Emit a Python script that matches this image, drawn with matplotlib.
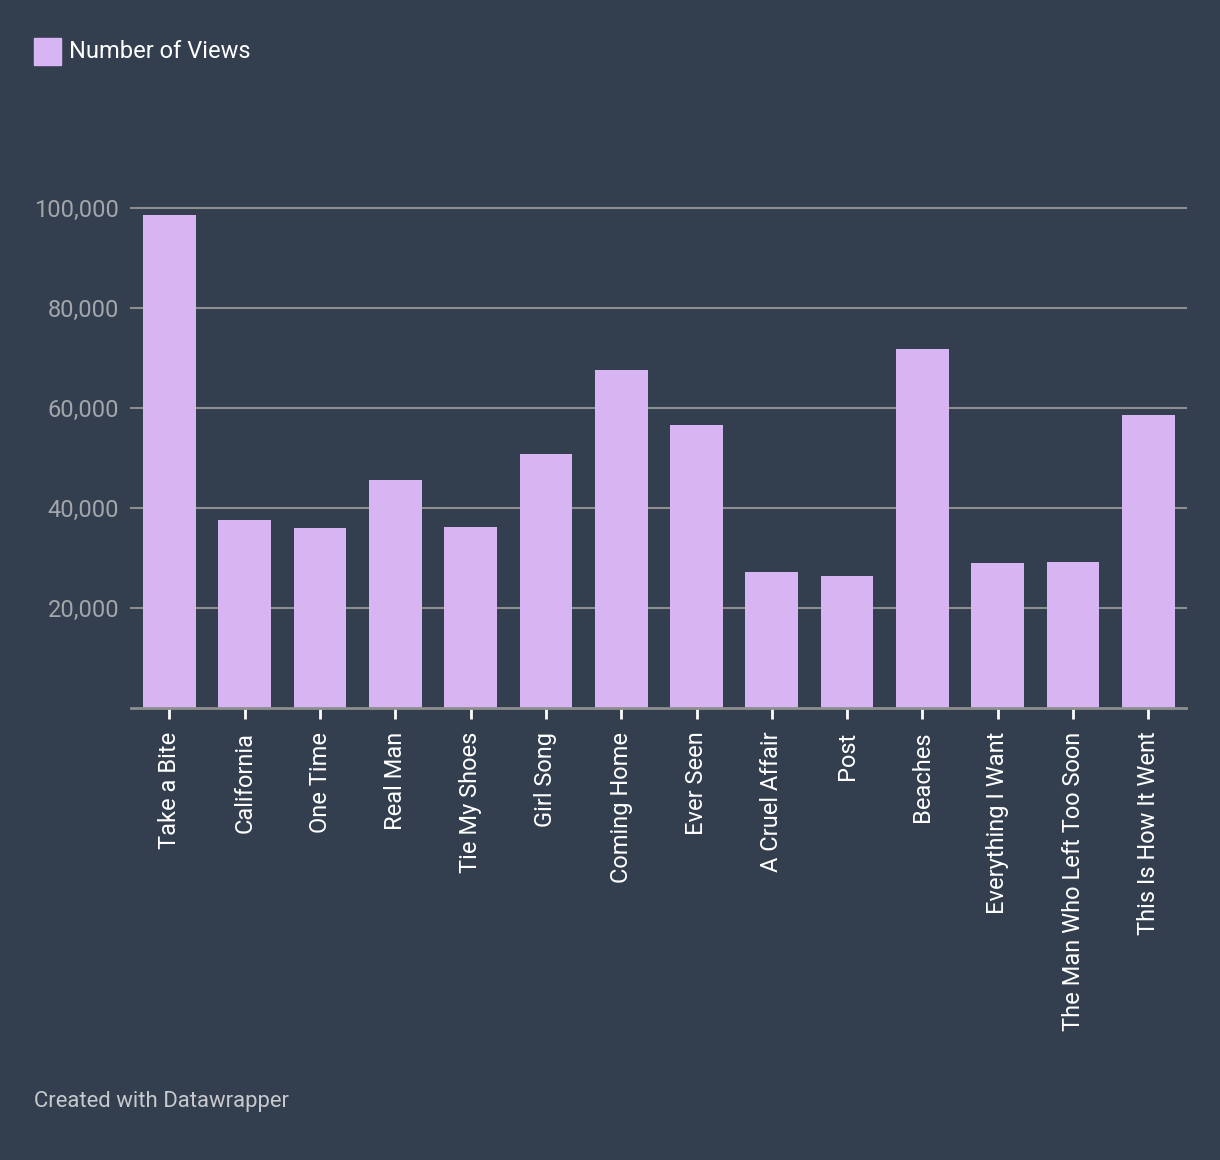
import matplotlib
matplotlib.use("Agg")
import matplotlib.pyplot as plt
from matplotlib.patches import Rectangle

songs = ["Take a Bite", "California", "One Time", "Real Man", "Tie My Shoes",
         "Girl Song", "Coming Home", "Ever Seen", "A Cruel Affair", "Post",
         "Beaches", "Everything I Want", "The Man Who Left Too Soon",
         "This Is How It Went"]
views = [98600, 37600, 36000, 45600, 36200, 50800, 67600, 56600, 27200,
         26400, 71800, 29000, 29200, 58600]
y_ticks = [20000, 40000, 60000, 80000, 100000]
y_tick_labels = ["20,000", "40,000", "60,000", "80,000", "100,000"]
series_name = "Number of Views"

BG = "#333e4f"
BAR = "#d7b5f2"
GRID = "#8e8e8e"

plt.rcParams['font.family'] = ['Roboto', 'DejaVu Sans']

W, H = 1220, 1160
fig = plt.figure(figsize=(W / 100, H / 100), dpi=100, facecolor=BG)
ax = fig.add_axes([131 / W, 1 - 708 / H, (1186 - 131) / W, (708 - 208) / H])
ax.set_facecolor(BG)

x = list(range(len(songs)))
ax.bar(x, views, width=0.70, color=BAR, zorder=3)
ax.set_xlim(-0.51, len(songs) - 0.5)
ax.set_ylim(0, 100000)

for t in y_ticks:
    ax.axhline(t, color=GRID, lw=1.5, zorder=1, clip_on=False)
ax.set_yticks(y_ticks)
ax.set_yticklabels(y_tick_labels, color="#a3a6ab", fontsize=17)
ax.tick_params(axis="y", length=0, pad=8.5)

ax.set_xticks(x)
ax.set_xticklabels(songs, rotation=90, color="white", fontsize=17, va="top",
                   rotation_mode="default")
ax.tick_params(axis="x", length=8, width=2, color="white", pad=9, direction="out")

for s in ["top", "right", "left"]:
    ax.spines[s].set_visible(False)
ax.spines["bottom"].set_color(GRID)
ax.spines["bottom"].set_linewidth(2)
ax.spines["bottom"].set_zorder(4)

# legend
fig.patches.append(Rectangle((34 / W, 1 - 65 / H), 27 / W, 27 / H,
                             transform=fig.transFigure, color=BAR))
fig.text(69 / W, 1 - 51 / H, series_name, color="white", fontsize=17,
         va="center", ha="left")

fig.text(34 / W, 1 - 1101 / H, "Created with Datawrapper", color="#c8c9cc",
         fontsize=15.9, va="center", ha="left")

fig.savefig("out.png", dpi=100, facecolor=BG)
